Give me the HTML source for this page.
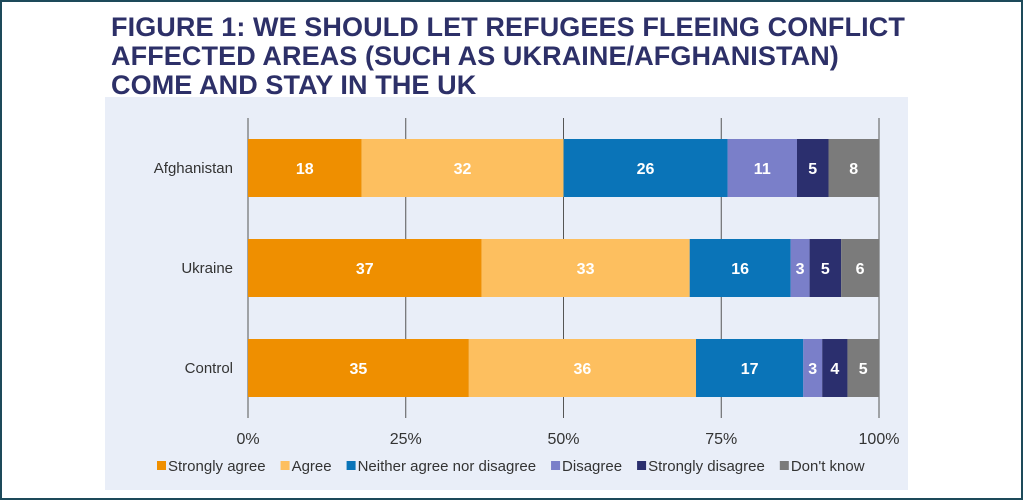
<!DOCTYPE html>
<html><head><meta charset="utf-8"><style>
body{margin:0;width:1023px;height:500px;background:#fff;overflow:hidden;font-family:"Liberation Sans",sans-serif}
#frame{position:absolute;left:0;top:0;width:1019px;height:496px;border:2px solid #1d4a5a}
#title{position:absolute;left:111px;top:13px;font-weight:bold;font-size:27px;line-height:29px;color:#2d3068;letter-spacing:0.1px}
#panel{position:absolute;left:105px;top:97px;width:803px;height:393px;background:#e9eef8}
</style></head><body>
<div id="frame"></div>
<div id="title">FIGURE 1: WE SHOULD LET REFUGEES FLEEING CONFLICT<br>AFFECTED AREAS (SUCH AS UKRAINE/AFGHANISTAN)<br>COME AND STAY IN THE UK</div>
<div id="panel"></div>
<svg id="chart" width="1023" height="500" style="position:absolute;left:0;top:0"></svg>
<script>
const categories=["Afghanistan","Ukraine","Control"];
const seriesNames=["Strongly agree","Agree","Neither agree nor disagree","Disagree","Strongly disagree","Don't know"];
const stronglyAgree=[18,37,35];
const agree=[32,33,36];
const neither=[26,16,17];
const disagree=[11,3,3];
const stronglyDisagree=[5,5,4];
const dontKnow=[8,6,5];
const tickValues=[0,25,50,75,100];
const tickLabels=["0%","25%","50%","75%","100%"];
const colors=["#ef8f00","#fdbf5f","#0a74b8","#7a7fc9","#2b2f6e","#7b7b7b"];
const series=[stronglyAgree,agree,neither,disagree,stronglyDisagree,dontKnow];
const NS="http://www.w3.org/2000/svg";
const svg=document.getElementById('chart');
const x=v=>248+v*(879-248)/100;
const y=i=>139+i*100;
const bh=58;
function mk(t,a){const e=document.createElementNS(NS,t);for(const k in a)e.setAttribute(k,a[k]);svg.appendChild(e);return e;}
tickValues.forEach((v,i)=>{
 const l=mk('line',{x1:x(v),x2:x(v),y1:118,y2:418,stroke:'#555','stroke-width':1});
 
 
 const t=mk('text',{x:x(v),y:444,'text-anchor':'middle','font-size':16,fill:'#333'});
 t.textContent=tickLabels[i];
 
 
});
categories.forEach((c,i)=>{
 const t=mk('text',{x:233,y:y(i)+bh/2+5,'text-anchor':'end','font-size':15,fill:'#333'});
 t.textContent=c;
 
 
 let cum=0;
 series.forEach((s,j)=>{
  const v=s[i];
  const r=mk('rect',{x:x(cum),y:y(i),width:x(cum+v)-x(cum),height:bh,fill:colors[j]});
  
  
  const tt=mk('text',{x:(x(cum)+x(cum+v))/2,y:y(i)+bh/2+6,'text-anchor':'middle','font-size':16,'font-weight':'bold',fill:'#fff'});
  tt.textContent=v;
  
  
  cum+=v;
 });
});
let lx=157;
seriesNames.forEach((n,j)=>{
 const r=mk('rect',{x:lx,y:461,width:9,height:9,fill:colors[j]});
 
 
 const t=mk('text',{x:lx+11,y:471,'font-size':15,fill:'#333'});
 t.textContent=n;
 
 
 lx+=11+t.getComputedTextLength()+15;
});
</script>
</body></html>
